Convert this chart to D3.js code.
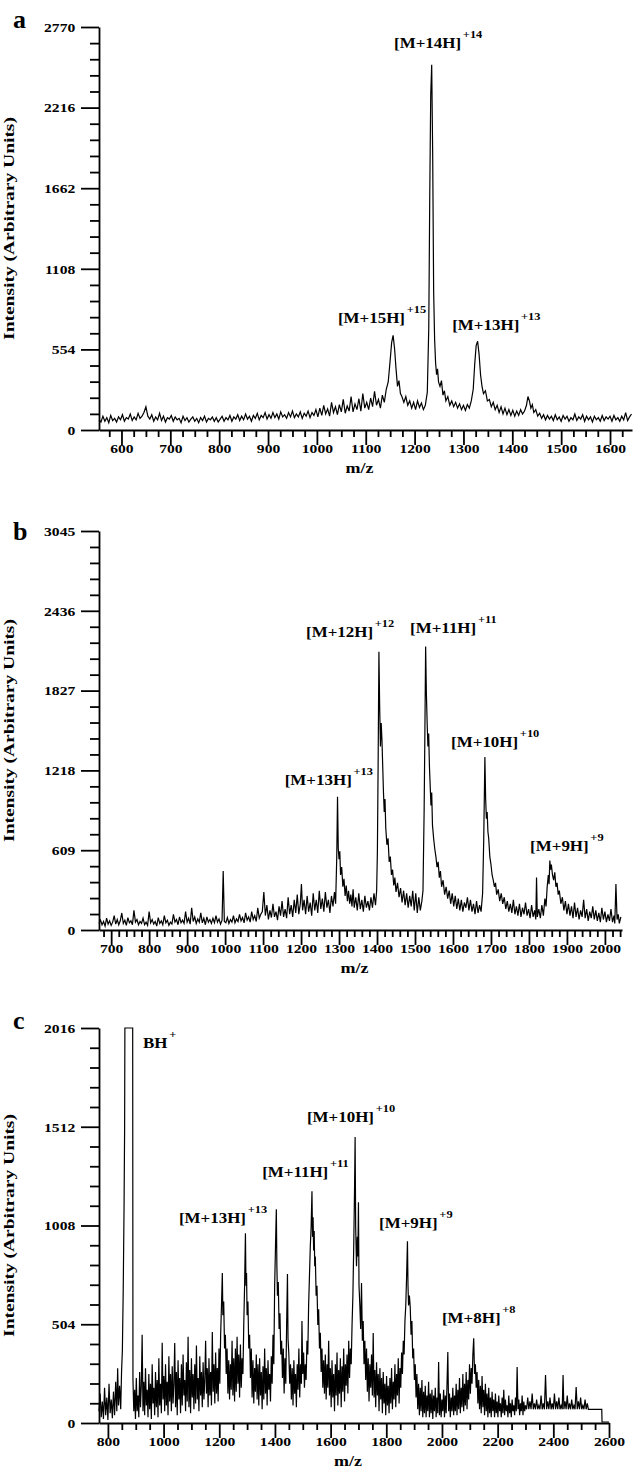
<!DOCTYPE html>
<html>
<head>
<meta charset="utf-8">
<script src="https://cdn.jsdelivr.net/npm/d3@7"></script>
<style>
  body { margin: 0; background: #fff; }
  text { font-family: 'Liberation Serif', 'Times New Roman', serif; font-weight: bold; fill: #000; }
</style>
</head>
<body>
<div id="chart"></div>
<script>
// m/z, intensity pairs
const spectrumA = [
  [554,70],[558,55],[562,95],[566,60],[570,85],[574,50],[578,100],[582,65],[586,80],[590,55],[594,90],[598,70],
  [602,105],[606,60],[610,85],[614,75],[618,110],[622,65],[626,90],[630,70],[634,115],[638,80],[642,95],[646,120],
  [650,160],[654,95],[658,75],[662,105],[666,60],[670,90],[674,70],[678,115],[682,65],[686,95],[690,55],[694,85],
  [698,75],[702,100],[706,60],[710,90],[714,70],[718,80],[722,50],[726,95],[730,65],[734,85],[738,55],[742,75],
  [746,90],[750,60],[754,80],[758,50],[762,85],[766,65],[770,95],[774,55],[778,80],[782,70],[786,90],[790,60],
  [794,85],[798,55],[802,75],[806,95],[810,60],[814,85],[818,70],[822,100],[826,60],[830,90],[834,75],[838,105],
  [842,65],[846,95],[850,70],[854,110],[858,75],[862,95],[866,60],[870,100],[874,80],[878,115],[882,70],[886,100],
  [890,85],[894,120],[898,75],[902,105],[906,80],[910,120],[914,85],[918,110],[922,75],[926,125],[930,90],[934,105],
  [938,80],[942,120],[946,90],[950,130],[954,85],[958,110],[962,90],[966,125],[970,80],[974,115],[978,95],[982,130],
  [986,85],[990,120],[994,100],[998,140],[1002,90],[1006,150],[1010,100],[1014,170],[1018,110],[1022,145],[1026,95],
  [1030,190],[1034,120],[1038,160],[1042,105],[1046,175],[1050,125],[1054,210],[1058,115],[1062,165],[1066,130],
  [1070,230],[1074,125],[1078,180],[1082,140],[1086,215],[1090,130],[1094,250],[1098,150],[1102,190],[1106,140],
  [1110,220],[1114,160],[1118,265],[1122,170],[1126,210],[1130,150],[1134,240],[1138,190],[1142,280],[1146,330],
  [1150,480],[1153,600],[1156,650],[1159,560],[1162,420],[1165,300],[1168,340],[1171,250],[1174,230],[1178,190],
  [1182,230],[1186,170],[1190,200],[1194,150],[1198,190],[1202,140],[1206,200],[1210,155],[1214,185],[1218,140],
  [1222,170],[1226,260],[1229,700],[1231,1600],[1233,2300],[1235,2510],[1237,1900],[1239,950],[1241,620],[1243,460],
  [1245,380],[1247,420],[1249,330],[1252,300],[1255,340],[1258,240],[1261,270],[1264,200],[1268,230],[1272,170],
  [1276,200],[1280,160],[1284,190],[1288,150],[1292,180],[1296,140],[1300,170],[1304,135],[1308,175],[1312,150],
  [1316,200],[1320,280],[1323,450],[1326,580],[1329,610],[1332,520],[1335,380],[1338,300],[1341,250],[1345,270],
  [1349,200],[1353,210],[1357,160],[1361,190],[1365,140],[1369,170],[1373,120],[1377,160],[1381,110],[1385,150],
  [1389,105],[1393,140],[1397,100],[1401,135],[1405,95],[1409,130],[1413,100],[1417,140],[1421,110],[1425,130],
  [1429,170],[1432,230],[1435,200],[1438,150],[1441,175],[1444,120],[1448,140],[1452,95],[1456,115],[1460,80],
  [1464,105],[1468,70],[1472,100],[1476,75],[1480,95],[1484,65],[1488,105],[1492,70],[1496,90],[1500,60],[1504,100],
  [1508,75],[1512,95],[1516,60],[1520,85],[1524,70],[1528,110],[1532,65],[1536,90],[1540,75],[1544,105],[1548,60],
  [1552,95],[1556,70],[1560,90],[1564,55],[1568,95],[1572,70],[1576,85],[1580,60],[1584,100],[1588,65],[1592,90],
  [1596,75],[1600,95],[1604,60],[1608,100],[1612,70],[1616,85],[1620,60],[1624,95],[1628,70],[1632,120],[1636,65],
  [1640,90],[1644,110]
];

const spectrumB = [
  [668,50],[672,75],[676,40],[680,65],[684,30],[688,90],[692,45],[696,70],[700,35],[704,60],[708,110],[712,45],
  [716,80],[720,40],[724,70],[728,130],[732,50],[736,75],[740,35],[744,95],[748,55],[752,70],[756,40],[760,150],
  [764,60],[768,80],[772,40],[776,65],[780,50],[784,90],[788,40],[792,60],[796,35],[800,140],[804,55],[808,80],
  [812,45],[816,65],[820,30],[824,95],[828,50],[832,70],[836,40],[840,110],[844,55],[848,75],[852,35],[856,60],
  [860,45],[864,120],[868,60],[872,80],[876,40],[880,100],[884,55],[888,75],[892,50],[896,140],[900,60],[904,90],
  [908,45],[912,170],[916,65],[920,100],[924,50],[928,85],[932,60],[936,130],[940,55],[944,90],[948,40],[952,100],
  [956,60],[960,80],[964,50],[968,90],[972,55],[976,110],[980,60],[984,85],[988,45],[992,75],[995,450],[998,65],
  [1002,55],[1006,95],[1010,50],[1014,80],[1018,60],[1022,110],[1026,55],[1030,85],[1034,65],[1038,120],[1042,70],
  [1046,95],[1050,55],[1054,130],[1058,75],[1062,100],[1066,60],[1070,140],[1074,80],[1078,110],[1082,65],[1086,170],
  [1090,90],[1094,120],[1098,140],[1102,290],[1106,110],[1110,190],[1114,80],[1118,150],[1122,95],[1126,200],
  [1130,100],[1134,140],[1138,75],[1142,180],[1146,110],[1150,220],[1154,100],[1158,160],[1162,90],[1166,250],
  [1170,120],[1174,190],[1178,100],[1182,230],[1186,130],[1190,270],[1194,120],[1198,200],[1201,350],[1204,150],
  [1208,230],[1212,120],[1216,260],[1220,140],[1224,210],[1228,110],[1232,280],[1236,150],[1240,230],[1244,130],
  [1248,300],[1252,160],[1256,240],[1260,140],[1264,290],[1268,170],[1272,230],[1276,130],[1280,260],[1284,180],
  [1288,290],[1291,200],[1294,560],[1296,1017],[1298,620],[1300,540],[1302,600],[1304,420],[1307,480],[1310,330],
  [1313,390],[1316,260],[1319,340],[1322,220],[1325,300],[1328,200],[1331,270],[1334,180],[1337,310],[1340,170],
  [1344,250],[1348,150],[1352,280],[1356,160],[1360,230],[1364,140],[1368,260],[1372,170],[1376,220],[1380,150],
  [1384,250],[1388,170],[1392,280],[1396,190],[1399,300],[1401,600],[1403,1300],[1405,2124],[1407,1700],[1409,1400],
  [1411,1580],[1413,1450],[1415,1250],[1417,1050],[1419,900],[1421,1000],[1423,780],[1426,650],[1429,700],[1432,520],
  [1435,560],[1438,420],[1441,460],[1444,340],[1447,400],[1450,290],[1454,360],[1458,250],[1462,320],[1466,210],
  [1470,300],[1474,190],[1478,280],[1482,170],[1486,260],[1490,180],[1494,300],[1498,150],[1502,280],[1506,130],
  [1510,250],[1514,150],[1518,220],[1521,300],[1524,900],[1526,1500],[1528,2163],[1530,1800],[1532,1580],[1534,1400],
  [1536,1500],[1538,1250],[1540,1100],[1542,950],[1544,1050],[1546,800],[1549,700],[1552,620],[1555,560],[1558,480],
  [1561,520],[1564,400],[1567,450],[1570,330],[1574,380],[1578,270],[1582,330],[1586,240],[1590,300],[1594,200],
  [1598,280],[1602,180],[1606,260],[1610,160],[1614,240],[1618,150],[1622,230],[1626,140],[1630,210],[1634,170],
  [1638,250],[1642,150],[1646,230],[1650,140],[1654,200],[1658,120],[1662,220],[1666,130],[1670,190],[1674,140],
  [1678,280],[1681,700],[1684,1320],[1686,1000],[1688,850],[1690,900],[1692,750],[1694,700],[1697,560],[1700,500],
  [1703,420],[1706,380],[1709,330],[1712,360],[1715,270],[1719,310],[1723,220],[1727,280],[1731,200],[1735,250],
  [1739,160],[1743,220],[1747,140],[1751,200],[1755,130],[1759,230],[1763,120],[1767,180],[1771,110],[1775,200],
  [1779,100],[1783,170],[1787,120],[1791,210],[1795,110],[1799,160],[1803,90],[1807,190],[1811,100],[1815,150],
  [1818,80],[1820,400],[1822,100],[1826,160],[1830,90],[1834,190],[1838,110],[1842,240],[1845,180],[1848,330],
  [1851,420],[1853,350],[1855,530],[1857,460],[1859,500],[1862,420],[1865,380],[1868,440],[1871,330],[1874,360],
  [1877,270],[1880,300],[1884,200],[1888,250],[1892,150],[1896,220],[1900,120],[1904,200],[1908,110],[1912,180],
  [1916,90],[1920,210],[1924,100],[1928,170],[1932,80],[1936,150],[1940,100],[1944,230],[1948,90],[1952,160],
  [1956,70],[1960,140],[1964,90],[1968,180],[1972,80],[1976,150],[1980,70],[1984,130],[1988,60],[1992,170],
  [1996,80],[2000,140],[2004,60],[2008,120],[2012,70],[2016,160],[2020,60],[2024,110],[2026,50],[2029,350],
  [2032,80],[2035,120],[2038,50],[2042,100]
];

const spectrumC = [
  [768,60],[772,150],[776,30],[780,110],[784,20],[788,180],[792,40],[796,130],[800,15],[804,200],[808,50],[812,120],
  [816,25],[820,160],[824,40],[828,210],[832,60],[835,280],[838,90],[842,190],[846,70],[849,260],[852,372],[855,677],
  [858,1100],[860,1500],[861,2016],[875,2016],[889,2016],[890,220],[893,60],[896,170],[899,20],[902,230],[905,60],
  [908,140],[911,30],[914,260],[917,80],[920,190],[923,450],[926,60],[929,210],[932,40],[935,280],[938,90],[941,170],
  [944,30],[947,250],[950,70],[953,200],[956,20],[959,300],[962,100],[965,180],[968,40],[971,260],[974,80],[977,220],
  [980,30],[983,330],[986,90],[989,200],[992,50],[995,410],[998,120],[1001,240],[1004,60],[1007,300],[1010,90],
  [1013,210],[1016,40],[1019,340],[1022,110],[1025,250],[1028,60],[1031,290],[1034,100],[1037,200],[1040,408],
  [1043,80],[1046,260],[1049,40],[1052,320],[1055,120],[1058,230],[1061,50],[1064,300],[1067,90],[1070,350],
  [1073,140],[1076,220],[1079,60],[1082,310],[1085,110],[1088,440],[1091,80],[1094,270],[1097,50],[1100,330],
  [1103,130],[1106,250],[1109,70],[1112,300],[1115,100],[1118,395],[1121,120],[1124,230],[1127,60],[1130,340],
  [1133,140],[1136,260],[1139,80],[1142,310],[1145,120],[1148,220],[1151,420],[1154,150],[1157,280],[1160,80],
  [1163,330],[1166,140],[1169,260],[1172,90],[1175,464],[1178,160],[1181,300],[1184,100],[1187,360],[1190,150],
  [1193,280],[1196,110],[1199,380],[1202,200],[1205,450],[1208,600],[1211,765],[1213,550],[1216,620],[1219,380],
  [1222,450],[1225,250],[1228,380],[1231,150],[1234,320],[1237,120],[1240,300],[1243,170],[1246,420],[1249,140],
  [1252,330],[1255,110],[1258,380],[1261,160],[1264,440],[1267,200],[1270,350],[1273,130],[1276,400],[1279,180],
  [1282,330],[1285,250],[1288,500],[1291,700],[1294,969],[1296,700],[1298,765],[1300,550],[1303,620],[1306,380],
  [1309,450],[1312,230],[1315,380],[1318,130],[1321,320],[1324,100],[1327,280],[1330,160],[1333,350],[1336,120],
  [1339,300],[1342,90],[1345,330],[1348,140],[1351,260],[1354,70],[1357,290],[1360,120],[1363,380],[1366,150],
  [1369,280],[1372,90],[1375,320],[1378,170],[1381,250],[1384,110],[1387,340],[1390,200],[1393,450],[1396,300],
  [1399,700],[1402,900],[1405,1091],[1407,800],[1409,650],[1412,720],[1415,480],[1418,560],[1421,350],[1424,420],
  [1427,230],[1430,380],[1433,150],[1436,330],[1439,200],[1442,500],[1445,760],[1447,430],[1450,350],[1453,200],
  [1456,300],[1459,120],[1462,280],[1465,90],[1468,320],[1471,150],[1474,250],[1477,80],[1480,300],[1483,170],
  [1486,380],[1489,130],[1492,300],[1495,200],[1497,520],[1500,250],[1503,360],[1506,180],[1509,300],[1512,220],
  [1515,420],[1518,350],[1521,600],[1524,750],[1527,900],[1530,1000],[1533,1183],[1535,950],[1537,1050],[1539,880],
  [1541,980],[1543,800],[1545,850],[1548,650],[1551,700],[1554,500],[1557,580],[1560,380],[1563,460],[1566,260],
  [1569,380],[1572,180],[1575,320],[1578,150],[1581,350],[1584,120],[1587,300],[1590,180],[1593,420],[1596,140],
  [1599,280],[1602,80],[1605,320],[1608,130],[1611,250],[1614,60],[1617,300],[1620,140],[1623,360],[1626,90],
  [1629,270],[1632,150],[1635,330],[1638,80],[1641,290],[1644,160],[1647,380],[1650,110],[1653,300],[1656,190],
  [1659,350],[1662,150],[1665,420],[1668,230],[1671,380],[1674,300],[1677,500],[1680,650],[1683,900],[1686,1200],
  [1688,1460],[1690,1000],[1693,800],[1696,950],[1698,850],[1700,1127],[1702,700],[1705,600],[1708,480],[1711,714],
  [1714,420],[1717,520],[1720,300],[1723,420],[1726,220],[1729,380],[1732,160],[1735,330],[1738,110],[1741,300],
  [1744,180],[1747,350],[1750,140],[1753,459],[1756,130],[1759,270],[1762,80],[1765,310],[1768,140],[1771,250],
  [1774,60],[1777,280],[1780,120],[1783,230],[1786,50],[1789,260],[1792,100],[1795,200],[1798,40],[1801,240],
  [1804,90],[1807,190],[1810,50],[1813,230],[1816,100],[1819,280],[1822,70],[1825,210],[1828,120],[1831,300],
  [1834,80],[1837,250],[1840,140],[1843,330],[1846,100],[1849,280],[1852,180],[1855,360],[1858,250],[1861,420],
  [1864,350],[1867,520],[1870,600],[1873,750],[1876,928],[1878,700],[1880,600],[1883,650],[1886,592],[1889,450],
  [1892,520],[1895,330],[1898,380],[1901,220],[1904,300],[1907,130],[1910,250],[1913,70],[1916,200],[1919,40],
  [1922,180],[1925,60],[1928,220],[1931,30],[1934,160],[1937,50],[1940,190],[1943,30],[1946,140],[1949,60],
  [1952,210],[1955,30],[1958,150],[1961,50],[1964,170],[1967,20],[1970,140],[1973,60],[1976,180],[1979,30],
  [1982,130],[1985,50],[1988,311],[1991,40],[1994,150],[1997,30],[2000,120],[2003,60],[2006,170],[2009,30],
  [2012,140],[2015,50],[2018,190],[2021,362],[2024,60],[2027,150],[2030,30],[2033,130],[2036,60],[2039,180],
  [2042,40],[2045,140],[2048,60],[2051,200],[2054,40],[2057,170],[2060,70],[2063,230],[2066,50],[2069,180],
  [2072,80],[2075,250],[2078,60],[2081,200],[2084,90],[2087,260],[2090,70],[2093,220],[2096,120],[2099,300],
  [2102,150],[2105,280],[2108,200],[2111,350],[2114,433],[2117,250],[2120,300],[2123,180],[2126,260],[2129,100],
  [2132,220],[2135,70],[2138,190],[2141,50],[2144,240],[2147,80],[2150,170],[2153,40],[2156,200],[2159,60],
  [2162,150],[2165,30],[2168,180],[2171,50],[2174,130],[2177,30],[2180,160],[2183,60],[2186,120],[2189,30],
  [2192,150],[2195,50],[2198,110],[2201,30],[2204,140],[2207,60],[2210,100],[2213,30],[2216,130],[2219,50],
  [2222,170],[2225,40],[2228,120],[2231,60],[2234,90],[2237,30],[2240,140],[2243,50],[2246,100],[2249,30],
  [2252,120],[2255,60],[2258,90],[2261,40],[2264,130],[2267,60],[2270,286],[2273,70],[2276,120],[2279,40],
  [2282,100],[2285,60],[2288,140],[2291,40],[2294,110],[2297,60],[2300,90],[2304,70],[2308,130],[2312,70],
  [2316,110],[2320,70],[2324,150],[2328,70],[2332,100],[2336,70],[2340,120],[2344,70],[2348,90],[2352,70],
  [2356,140],[2360,70],[2364,100],[2368,70],[2372,245],[2376,70],[2380,110],[2384,70],[2388,130],[2392,70],
  [2396,100],[2400,70],[2404,150],[2408,70],[2412,110],[2416,70],[2420,130],[2424,70],[2428,90],[2432,70],
  [2435,245],[2438,70],[2442,110],[2446,70],[2450,140],[2454,70],[2458,100],[2462,70],[2466,120],[2470,70],
  [2474,90],[2478,70],[2482,184],[2486,70],[2490,110],[2494,70],[2498,130],[2502,70],[2506,90],[2510,70],
  [2514,120],[2518,70],[2522,100],[2526,70],[2530,70],[2545,70],[2560,70],[2574,70],[2575,5],[2600,5]
];

// axis tick values
const yTicksA = [0, 554, 1108, 1662, 2216, 2770];
const yTicksB = [0, 609, 1218, 1827, 2436, 3045];
const yTicksC = [0, 504, 1008, 1512, 2016];
const xTicksA = [600, 700, 800, 900, 1000, 1100, 1200, 1300, 1400, 1500, 1600];
const xTicksB = [700, 800, 900, 1000, 1100, 1200, 1300, 1400, 1500, 1600, 1700, 1800, 1900, 2000];
const xTicksC = [800, 1000, 1200, 1400, 1600, 1800, 2000, 2200, 2400, 2600];

// peak annotations: text, charge, anchored at (m/z, intensity)
const labelsA = [
  { text: '[M+14H]', sup: '+14', mz: 1158, y: 2625 },
  { text: '[M+15H]', sup: '+15', mz: 1043, y: 735 },
  { text: '[M+13H]', sup: '+13', mz: 1277, y: 687 }
];
const labelsB = [
  { text: '[M+12H]', sup: '+12', mz: 1213, y: 2236 },
  { text: '[M+11H]', sup: '+11', mz: 1487, y: 2267 },
  { text: '[M+10H]', sup: '+10', mz: 1595, y: 1397 },
  { text: '[M+13H]', sup: '+13', mz: 1157, y: 1107 },
  { text: '[M+9H]', sup: '+9', mz: 1803, y: 603 }
];
const labelsC = [
  { text: 'BH', sup: '+', mz: 926, y: 1914 },
  { text: '[M+13H]', sup: '+13', mz: 1055, y: 1021 },
  { text: '[M+11H]', sup: '+11', mz: 1354, y: 1256 },
  { text: '[M+10H]', sup: '+10', mz: 1515, y: 1536 },
  { text: '[M+9H]', sup: '+9', mz: 1774, y: 995 },
  { text: '[M+8H]', sup: '+8', mz: 2000, y: 510 }
];

const panels = [
  { letter: 'a', data: spectrumA, xDomain: [554, 1645], yTicks: yTicksA, xTicks: xTicksA, xMinor: 25, xMinorStart: 575,
    top: 27, bottom: 430, right: 632, labels: labelsA },
  { letter: 'b', data: spectrumB, xDomain: [668, 2045], yTicks: yTicksB, xTicks: xTicksB, xMinor: 20, xMinorStart: 680,
    top: 531, bottom: 930, right: 622, labels: labelsB },
  { letter: 'c', data: spectrumC, xDomain: [768, 2600], yTicks: yTicksC, xTicks: xTicksC, xMinor: 50, xMinorStart: 800,
    top: 1028, bottom: 1423, right: 609, labels: labelsC }
];

const width = 636;
const height = 1478;
const left = 99;

const svg = d3.select('#chart')
  .append('svg')
  .attr('width', width)
  .attr('height', height)
  .attr('viewBox', `0 0 ${width} ${height}`);

panels.forEach(p => {
  const g = svg.append('g');

  const x = d3.scaleLinear().domain(p.xDomain).range([left, p.right]);
  const yMax = p.yTicks[p.yTicks.length - 1];
  const y = d3.scaleLinear().domain([0, yMax]).range([p.bottom, p.top]);

  const yStep = p.yTicks[1] / 5;
  const yMinor = d3.range(yStep, yMax, yStep).filter(v => !p.yTicks.some(t => Math.abs(t - v) < 1));
  const xMinor = d3.range(p.xMinorStart, p.xDomain[1], p.xMinor).filter(v => !p.xTicks.includes(v));

  // minor ticks
  g.append('g')
    .attr('transform', `translate(${left},0)`)
    .call(d3.axisLeft(y).tickValues(yMinor).tickSize(9).tickFormat(''))
    .call(a => a.select('.domain').remove());
  g.append('g')
    .attr('transform', `translate(0,${p.bottom})`)
    .call(d3.axisBottom(x).tickValues(xMinor).tickSize(7).tickFormat(''))
    .call(a => a.select('.domain').remove());

  // major ticks with labels
  const yAxis = g.append('g')
    .attr('transform', `translate(${left},0)`)
    .call(d3.axisLeft(y).tickValues(p.yTicks).tickSize(18).tickSizeOuter(0).tickFormat(d3.format('d')));
  yAxis.selectAll('text')
    .attr('x', -19)
    .attr('dy', '0.35em')
    .attr('transform', 'scale(1.25,1)')
    .attr('font-size', 12.5);

  const xAxis = g.append('g')
    .attr('transform', `translate(0,${p.bottom})`)
    .call(d3.axisBottom(x).tickValues(p.xTicks).tickSize(15).tickSizeOuter(0).tickFormat(d3.format('d')));
  xAxis.selectAll('text')
    .attr('y', 23)
    .attr('dy', 0)
    .attr('transform', 'scale(1.25,1)')
    .attr('font-size', 12.5);

  g.selectAll('.domain, .tick line').attr('stroke', '#000').attr('stroke-width', 1.8);
  g.selectAll('.tick text').attr('fill', '#000').style('font-family', "'Liberation Serif', 'Times New Roman', serif");

  // spectrum trace
  const line = d3.line().x(d => x(d[0])).y(d => y(d[1]));
  g.append('path')
    .datum(p.data)
    .attr('d', line)
    .attr('fill', 'none')
    .attr('stroke', '#000')
    .attr('stroke-width', 1.2)
    .attr('stroke-linejoin', 'miter');

  // peak labels
  p.labels.forEach(l => {
    const t = g.append('text')
      .attr('transform', `translate(${x(l.mz)},${y(l.y)}) scale(1.13,1)`)
      .attr('font-size', 15);
    t.append('tspan').text(l.text);
    t.append('tspan').attr('dx', 1.5).attr('dy', -10).attr('font-size', 11).text(l.sup);
  });

  // panel letter
  g.append('text')
    .attr('x', 13)
    .attr('y', p.top + (p.letter === 'b' ? 9 : 1))
    .attr('font-size', 26)
    .text(p.letter);

  // axis titles
  g.append('text')
    .attr('transform', `translate(14,${(p.top + p.bottom) / 2}) rotate(-90) scale(1.3,1)`)
    .attr('text-anchor', 'middle')
    .attr('font-size', 15)
    .text('Intensity (Arbitrary Units)');

  g.append('text')
    .attr('transform', `translate(${(left + p.right) / 2 - 6},${p.bottom + 43}) scale(1.2,1)`)
    .attr('text-anchor', 'middle')
    .attr('font-size', 15)
    .text('m/z');
});
</script>
</body>
</html>
